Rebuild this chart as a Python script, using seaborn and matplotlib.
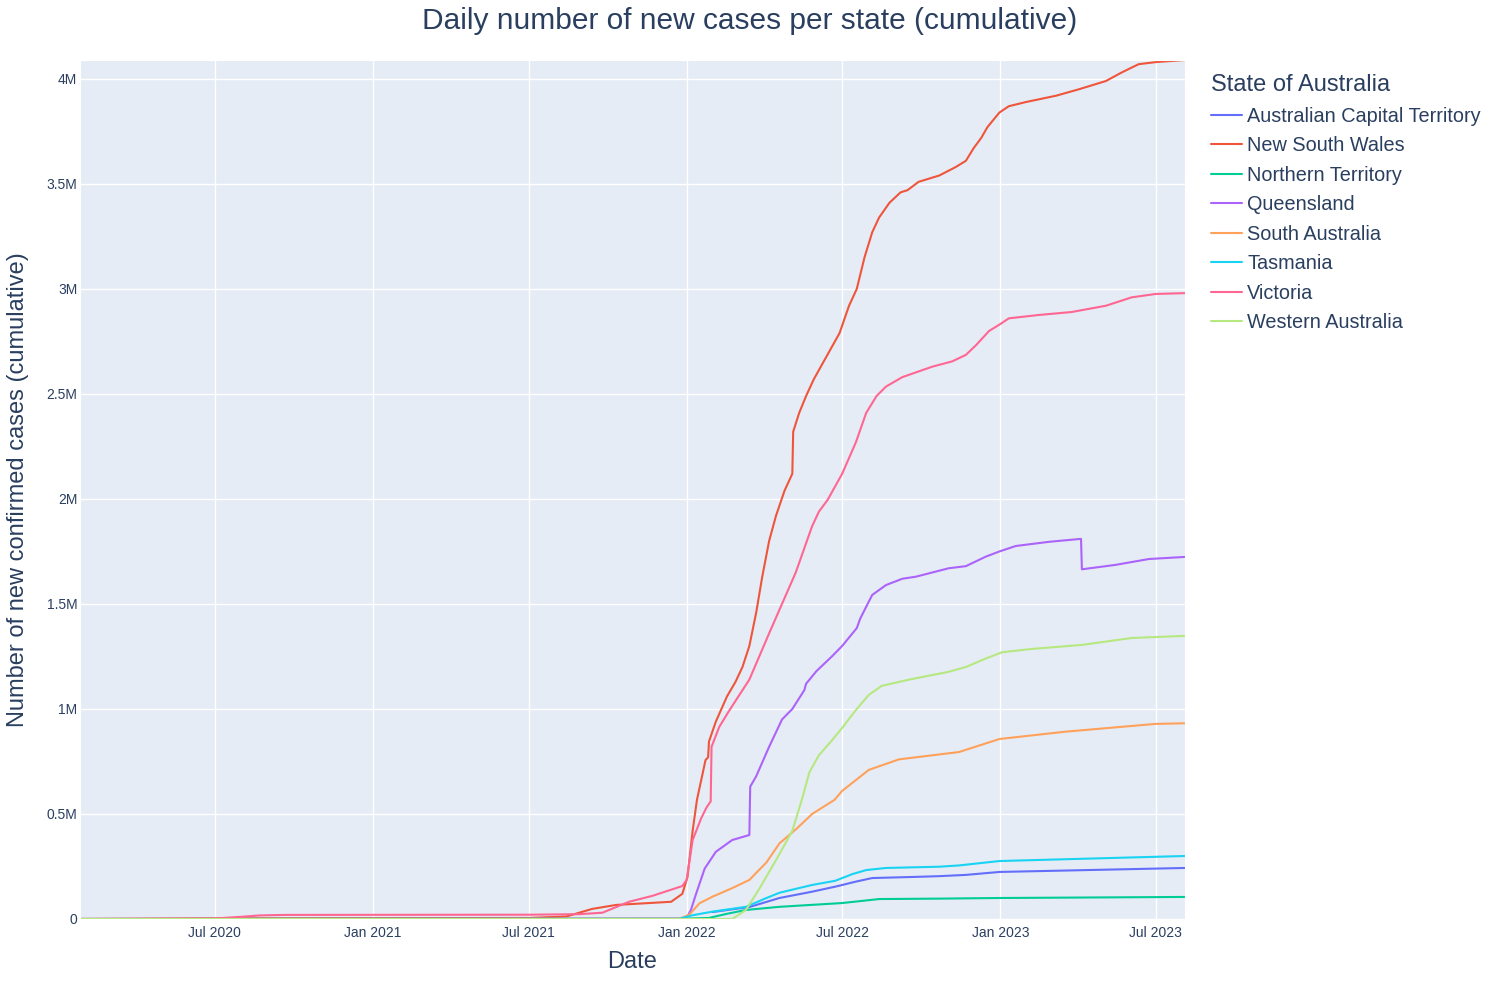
import pandas as pd
import matplotlib.pyplot as plt
import matplotlib.dates as mdates
from matplotlib.ticker import FuncFormatter
import seaborn as sns

# cumulative cases, millions
act_dates = ["2022-01-31", "2022-03-15", "2022-04-19", "2022-05-27", "2022-06-23", "2022-07-17",
             "2022-08-05", "2022-09-20", "2022-10-22", "2022-11-22", "2022-12-31", "2023-08-04"]
act_values = [0.033, 0.057, 0.100, 0.130, 0.154, 0.178, 0.195, 0.200, 0.204, 0.210, 0.224, 0.243]

nsw_dates = ["2020-01-26", "2020-03-16", "2020-06-29", "2021-07-02", "2021-07-20", "2021-08-14",
             "2021-09-13", "2021-10-11", "2021-12-14", "2021-12-27", "2022-01-02", "2022-01-08",
             "2022-01-13", "2022-01-23", "2022-01-26", "2022-01-27", "2022-02-04", "2022-02-17",
             "2022-02-27", "2022-03-07", "2022-03-15", "2022-03-23", "2022-03-30", "2022-04-07",
             "2022-04-15", "2022-04-25", "2022-05-04", "2022-05-05", "2022-05-12", "2022-05-20",
             "2022-05-29", "2022-06-04", "2022-06-28", "2022-07-09", "2022-07-18", "2022-07-27",
             "2022-08-05", "2022-08-13", "2022-08-25", "2022-09-07", "2022-09-15", "2022-09-28",
             "2022-10-22", "2022-11-10", "2022-11-22", "2022-12-01", "2022-12-10", "2022-12-17",
             "2022-12-25", "2022-12-31", "2023-01-11", "2023-01-31", "2023-03-07", "2023-04-02",
             "2023-05-04", "2023-05-22", "2023-06-11", "2023-07-01", "2023-08-04"]
nsw_values = [0.0, 0.0005, 0.003, 0.005, 0.008, 0.012,
              0.048, 0.067, 0.082, 0.120, 0.200, 0.420,
              0.567, 0.757, 0.770, 0.845, 0.940, 1.060,
              1.130, 1.200, 1.300, 1.460, 1.630, 1.800,
              1.920, 2.040, 2.120, 2.320, 2.410, 2.490,
              2.570, 2.614, 2.790, 2.920, 3.000, 3.150,
              3.270, 3.340, 3.410, 3.460, 3.470, 3.510,
              3.540, 3.580, 3.610, 3.670, 3.720, 3.770,
              3.810, 3.840, 3.870, 3.890, 3.920, 3.950,
              3.990, 4.030, 4.070, 4.080, 4.090]

nt_dates = ["2020-01-26", "2021-12-23", "2022-01-27", "2022-02-16", "2022-03-11", "2022-04-19",
            "2022-07-01", "2022-08-13", "2022-10-22", "2022-12-31", "2023-08-04"]
nt_values = [0.0, 0.001, 0.005, 0.024, 0.043, 0.058, 0.076, 0.095, 0.097, 0.100, 0.105]

qld_dates = ["2020-01-26", "2021-12-23", "2022-01-01", "2022-01-06", "2022-01-12", "2022-01-22",
             "2022-02-04", "2022-02-23", "2022-03-15", "2022-03-16", "2022-03-23", "2022-04-07",
             "2022-04-22", "2022-05-04", "2022-05-18", "2022-05-20", "2022-06-01", "2022-06-19",
             "2022-07-01", "2022-07-18", "2022-07-22", "2022-07-30", "2022-08-05", "2022-08-21",
             "2022-09-09", "2022-09-25", "2022-11-02", "2022-11-22", "2022-12-15", "2022-12-31",
             "2023-01-19", "2023-02-27", "2023-04-05", "2023-04-06", "2023-05-15", "2023-06-23",
             "2023-08-04"]
qld_values = [0.0, 0.002, 0.005, 0.043, 0.120, 0.240,
              0.320, 0.376, 0.400, 0.630, 0.680, 0.820,
              0.950, 1.000, 1.090, 1.120, 1.180, 1.250,
              1.300, 1.385, 1.430, 1.495, 1.543, 1.590,
              1.620, 1.630, 1.670, 1.680, 1.725, 1.750,
              1.776, 1.796, 1.810, 1.665, 1.686, 1.714,
              1.724]

sa_dates = ["2020-01-26", "2021-12-23", "2022-01-04", "2022-01-16", "2022-01-31", "2022-02-23",
            "2022-03-15", "2022-04-04", "2022-04-19", "2022-05-09", "2022-05-27", "2022-06-22",
            "2022-07-01", "2022-08-01", "2022-09-05", "2022-11-14", "2022-12-31", "2023-03-18",
            "2023-07-01", "2023-08-04"]
sa_values = [0.0, 0.001, 0.020, 0.075, 0.106, 0.147,
             0.186, 0.270, 0.360, 0.430, 0.500, 0.567,
             0.610, 0.710, 0.760, 0.795, 0.857, 0.892,
             0.929, 0.932]

tas_dates = ["2020-01-26", "2021-12-23", "2022-01-08", "2022-01-31", "2022-03-11", "2022-04-04",
             "2022-04-19", "2022-05-27", "2022-06-23", "2022-07-13", "2022-07-29", "2022-08-21",
             "2022-10-22", "2022-11-14", "2022-12-31", "2023-08-04"]
tas_values = [0.0, 0.0005, 0.018, 0.035, 0.058, 0.100,
              0.125, 0.162, 0.182, 0.214, 0.233, 0.243,
              0.249, 0.255, 0.276, 0.300]

vic_dates = ["2020-01-26", "2020-03-16", "2020-06-29", "2020-07-30", "2020-08-22", "2020-09-20",
             "2021-07-02", "2021-08-29", "2021-09-25", "2021-10-26", "2021-11-22", "2021-12-27",
             "2022-01-01", "2022-01-08", "2022-01-18", "2022-01-24", "2022-01-29", "2022-01-30",
             "2022-02-08", "2022-02-20", "2022-03-15", "2022-04-07", "2022-05-08", "2022-05-27",
             "2022-06-04", "2022-06-14", "2022-07-01", "2022-07-17", "2022-07-29", "2022-08-10",
             "2022-08-21", "2022-09-09", "2022-10-14", "2022-11-06", "2022-11-22", "2022-12-04",
             "2022-12-19", "2022-12-31", "2023-01-11", "2023-02-15", "2023-03-25", "2023-05-04",
             "2023-06-03", "2023-07-01", "2023-08-04"]
vic_values = [0.0, 0.001, 0.002, 0.010, 0.017, 0.0195,
              0.0205, 0.023, 0.030, 0.082, 0.110, 0.157,
              0.186, 0.376, 0.480, 0.530, 0.560, 0.820,
              0.915, 0.995, 1.140, 1.360, 1.650, 1.870,
              1.940, 1.995, 2.120, 2.270, 2.410, 2.490,
              2.535, 2.580, 2.630, 2.655, 2.686, 2.733,
              2.800, 2.830, 2.860, 2.876, 2.890, 2.920,
              2.960, 2.976, 2.980]

wa_dates = ["2020-01-26", "2022-02-23", "2022-03-11", "2022-03-26", "2022-04-15", "2022-05-04",
            "2022-05-15", "2022-05-24", "2022-06-04", "2022-06-19", "2022-07-01", "2022-07-17",
            "2022-08-01", "2022-08-16", "2022-09-17", "2022-11-02", "2022-11-22", "2022-12-15",
            "2023-01-03", "2023-02-07", "2023-04-06", "2023-06-03", "2023-08-04"]
wa_values = [0.0, 0.0, 0.043, 0.140, 0.280, 0.420,
             0.567, 0.700, 0.780, 0.850, 0.910, 0.995,
             1.067, 1.110, 1.140, 1.177, 1.200, 1.240,
             1.270, 1.286, 1.305, 1.338, 1.348]

states = ["Australian Capital Territory", "New South Wales", "Northern Territory", "Queensland",
          "South Australia", "Tasmania", "Victoria", "Western Australia"]
colours = ["#636EFA", "#EF553B", "#00CC96", "#AB63FA", "#FFA15A", "#19D3F3", "#FF6692", "#B6E880"]
all_dates = [act_dates, nsw_dates, nt_dates, qld_dates, sa_dates, tas_dates, vic_dates, wa_dates]
all_values = [act_values, nsw_values, nt_values, qld_values, sa_values, tas_values, vic_values, wa_values]

frames = []
for state, dates, values in zip(states, all_dates, all_values):
    frames.append(pd.DataFrame({"date": pd.to_datetime(dates), "cases": values, "state": state}))
df = pd.concat(frames, ignore_index=True)

text_col = "#2a3f5f"
sns.set_style("darkgrid", {"axes.facecolor": "#E5ECF6", "grid.color": "white"})
plt.rcParams["font.family"] = ["Liberation Sans", "DejaVu Sans"]

fig, ax = plt.subplots(figsize=(15, 10), dpi=100)
fig.subplots_adjust(left=80 / 1500, right=1185 / 1500, bottom=0.081, top=0.94)

sns.lineplot(data=df, x="date", y="cases", hue="state", hue_order=states,
             palette=dict(zip(states, colours)), estimator=None, linewidth=1.5, ax=ax)

ax.set_xlim(pd.Timestamp("2020-01-26"), pd.Timestamp("2023-08-04"))
ax.set_ylim(0, 4.09)
ax.grid(color="white", linewidth=1.0)
ax.xaxis.set_major_locator(mdates.MonthLocator(bymonth=[1, 7]))
ax.xaxis.set_major_formatter(mdates.DateFormatter("%b %Y"))
ax.set_yticks([0, 0.5, 1, 1.5, 2, 2.5, 3, 3.5, 4])
ax.yaxis.set_major_formatter(FuncFormatter(lambda v, _: "0" if v == 0 else f"{v:g}M"))
ax.tick_params(axis="both", labelsize=10, colors=text_col, length=0)
ax.tick_params(axis="x", pad=5)
ax.tick_params(axis="y", pad=2)

ax.set_xlabel("Date", fontsize=17, color=text_col)
ax.set_ylabel("Number of new confirmed cases (cumulative)", fontsize=17, color=text_col)
ax.xaxis.set_label_coords(0.5, -0.05)
ax.xaxis.label.set_va("center")
ax.yaxis.set_label_coords(-0.056, 0.5)
ax.yaxis.label.set_va("center")

fig.suptitle("Daily number of new cases per state (cumulative)", y=0.979, va="center",
             fontsize=21.5, color=text_col)

handles, labels = ax.get_legend_handles_labels()
leg = ax.legend(handles, labels, title="State of Australia", loc="upper left",
                bbox_to_anchor=(1211 / 1500, 1 - 74 / 1000), bbox_transform=fig.transFigure,
                frameon=False, fontsize=14.3, title_fontsize=17, handlelength=1.55,
                handletextpad=0.28, labelspacing=0.53, borderpad=0, borderaxespad=0)
leg._legend_box.align = "left"
leg.get_title().set_color(text_col)
for t in leg.get_texts():
    t.set_color(text_col)
for h in leg.get_lines():
    h.set_linewidth(1.5)

plt.savefig("out.png", dpi=100)
